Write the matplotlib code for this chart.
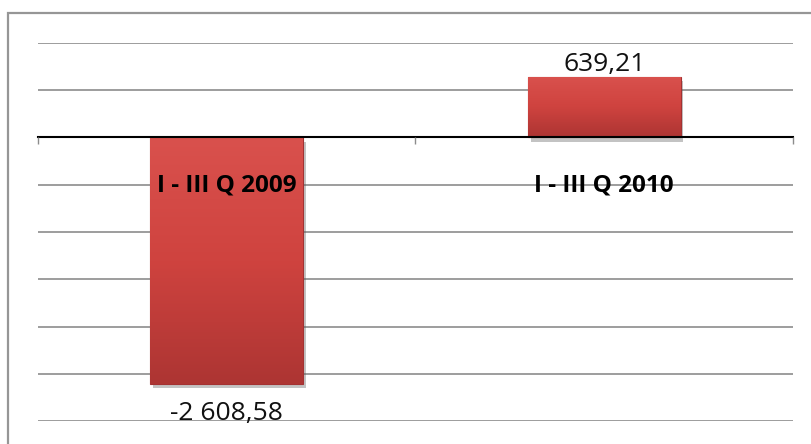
import matplotlib
matplotlib.use("Agg")
import matplotlib.pyplot as plt
import matplotlib.patheffects as pe
from matplotlib.colors import LinearSegmentedColormap
from matplotlib.patches import Rectangle
import numpy as np

categories = ["I - III Q 2009", "I - III Q 2010"]
values = [-2608.58, 639.21]
y_min, y_max, y_step = -3000, 1000, 500


def fmt_value(v):
    # 2608.58 -> "-2 608,58"
    s = f"{abs(v):,.2f}".replace(",", " ").replace(".", ",")
    return ("-" if v < 0 else "") + s


plt.rcParams["font.family"] = ["Open Sans", "DejaVu Sans"]

fig = plt.figure(figsize=(8.12, 4.44), dpi=100)
ax = fig.add_axes([38 / 812, 23 / 444, 755 / 812, 378 / 444])

# outer chart border (runs off the right and bottom edges)
fig.patches.append(Rectangle((8.5 / 812, -0.1), 1.2, 1.1 - 13.5 / 444,
                             transform=fig.transFigure, fill=False,
                             edgecolor="#969696", linewidth=1.6, zorder=0))

x = np.arange(len(categories))
bars = ax.bar(x, values, width=0.405, color="#cc4340", edgecolor="#a33232",
              linewidth=0.8, zorder=3)

grad = LinearSegmentedColormap.from_list("red", ["#ad3533", "#cf433f", "#d9514d"])
for b in bars:
    b.set_path_effects([pe.SimplePatchShadow(offset=(2, -3), alpha=0.35,
                                             shadow_rgbFace="#555555"),
                        pe.Normal()])
    x0, y0 = b.get_x(), b.get_y()
    w, h = b.get_width(), b.get_height()
    yb, yt = min(y0, y0 + h), max(y0, y0 + h)
    im = ax.imshow(np.linspace(0, 1, 100).reshape(-1, 1), cmap=grad,
                   extent=[x0, x0 + w, yb, yt], origin="lower",
                   aspect="auto", zorder=3.5)
    im.set_clip_path(b)

for xi, v in zip(x, values):
    if v >= 0:
        ax.annotate(fmt_value(v), (xi, v), xytext=(0, 0),
                    textcoords="offset points", ha="center", va="bottom",
                    fontsize=19, color="#111111", zorder=5)
    else:
        ax.annotate(fmt_value(v), (xi, v), xytext=(0, -12),
                    textcoords="offset points", ha="center", va="top",
                    fontsize=19, color="#111111", zorder=5)

ax.set_xlim(-0.5, len(categories) - 0.5)
ax.set_ylim(y_min, y_max)
ax.set_yticks(np.arange(y_min, y_max + 1, y_step))
ax.set_yticklabels([])
ax.tick_params(axis="y", length=0)
ax.grid(axis="y", color="#8c8c8c", linewidth=1.2, zorder=1)
ax.set_axisbelow(True)

for s in ["left", "right", "top"]:
    ax.spines[s].set_visible(False)
ax.spines["bottom"].set_position(("data", 0))
ax.spines["bottom"].set_color("black")
ax.spines["bottom"].set_linewidth(1.5)
ax.spines["bottom"].set_zorder(4)

# ticks at category boundaries, labels at centres
ax.set_xticks(np.arange(-0.5, len(categories)), labels=[])
ax.tick_params(axis="x", which="major", length=5, color="#8c8c8c", width=1)
ax.set_xticks(x, labels=categories, minor=True)
ax.tick_params(axis="x", which="minor", length=0, pad=26, labelsize=17.5)
for lbl in ax.get_xticklabels(minor=True):
    lbl.set_fontweight("bold")
# category labels sit on top of the bars
ax.xaxis.set_zorder(7)

fig.savefig("out.png", dpi=100)
